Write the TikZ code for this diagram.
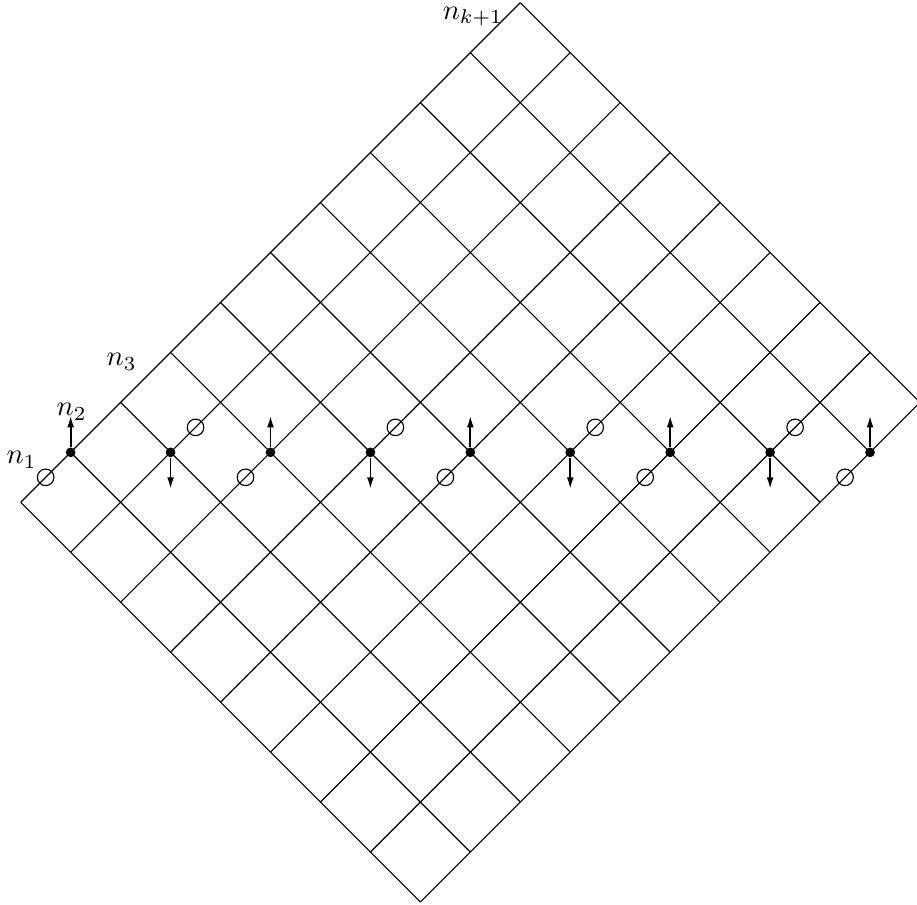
\documentclass[tikz,border=0pt]{standalone}
\usepackage{amsmath,amssymb}
\usepackage{tikz}
\usetikzlibrary{arrows.meta}

\begin{document}
\begin{tikzpicture}[x=0.615cm,y=0.615cm,
          spin/.style={-{Latex[length=4pt,width=2.4pt]},line width=0.6pt},
          site/.style={circle,fill=black,inner sep=0pt,minimum size=3.4pt},
          hole/.style={circle,draw=black,inner sep=0pt,minimum size=5.8pt},
          tag/.style={inner sep=0pt}]
        \useasboundingbox (-0.414,-8.04) rectangle (17.94,10.054);

        % lattice: 10 cells on the upper left side, 8 on the lower left
        \foreach \i in {0,...,10}
          \draw (\i,\i) -- ++(8,-8);
        \foreach \j in {0,...,8}
          \draw (\j,-\j) -- ++(10,10);

        % sites on the middle row, spins alternate up and down
        \foreach \k in {0,2,...,8} {
          \node[site] (s\k) at ({2*\k+1},1) {};
          \draw[spin] (s\k) -- ++(0,0.73);
          \node[hole] (h\k) at ({2*\k+0.5},0.5) {};
        }
        \foreach \k in {1,3,...,7} {
          \node[site] (s\k) at ({2*\k+1},1) {};
          \draw[spin] (s\k) -- ++(0,-0.73);
          \node[hole] (h\k) at ({2*\k+1.5},1.5) {};
        }

        \node[tag] (n1) at (0.02,0.85) {$n_1$};
        \node[tag] (n2) at (1.02,1.81) {$n_2$};
        \node[tag] (n3) at (2.02,2.81) {$n_3$};
        \node[tag] (nk) at (9.05,9.72) {$n_{k+1}$};
      \end{tikzpicture}
\end{document}
